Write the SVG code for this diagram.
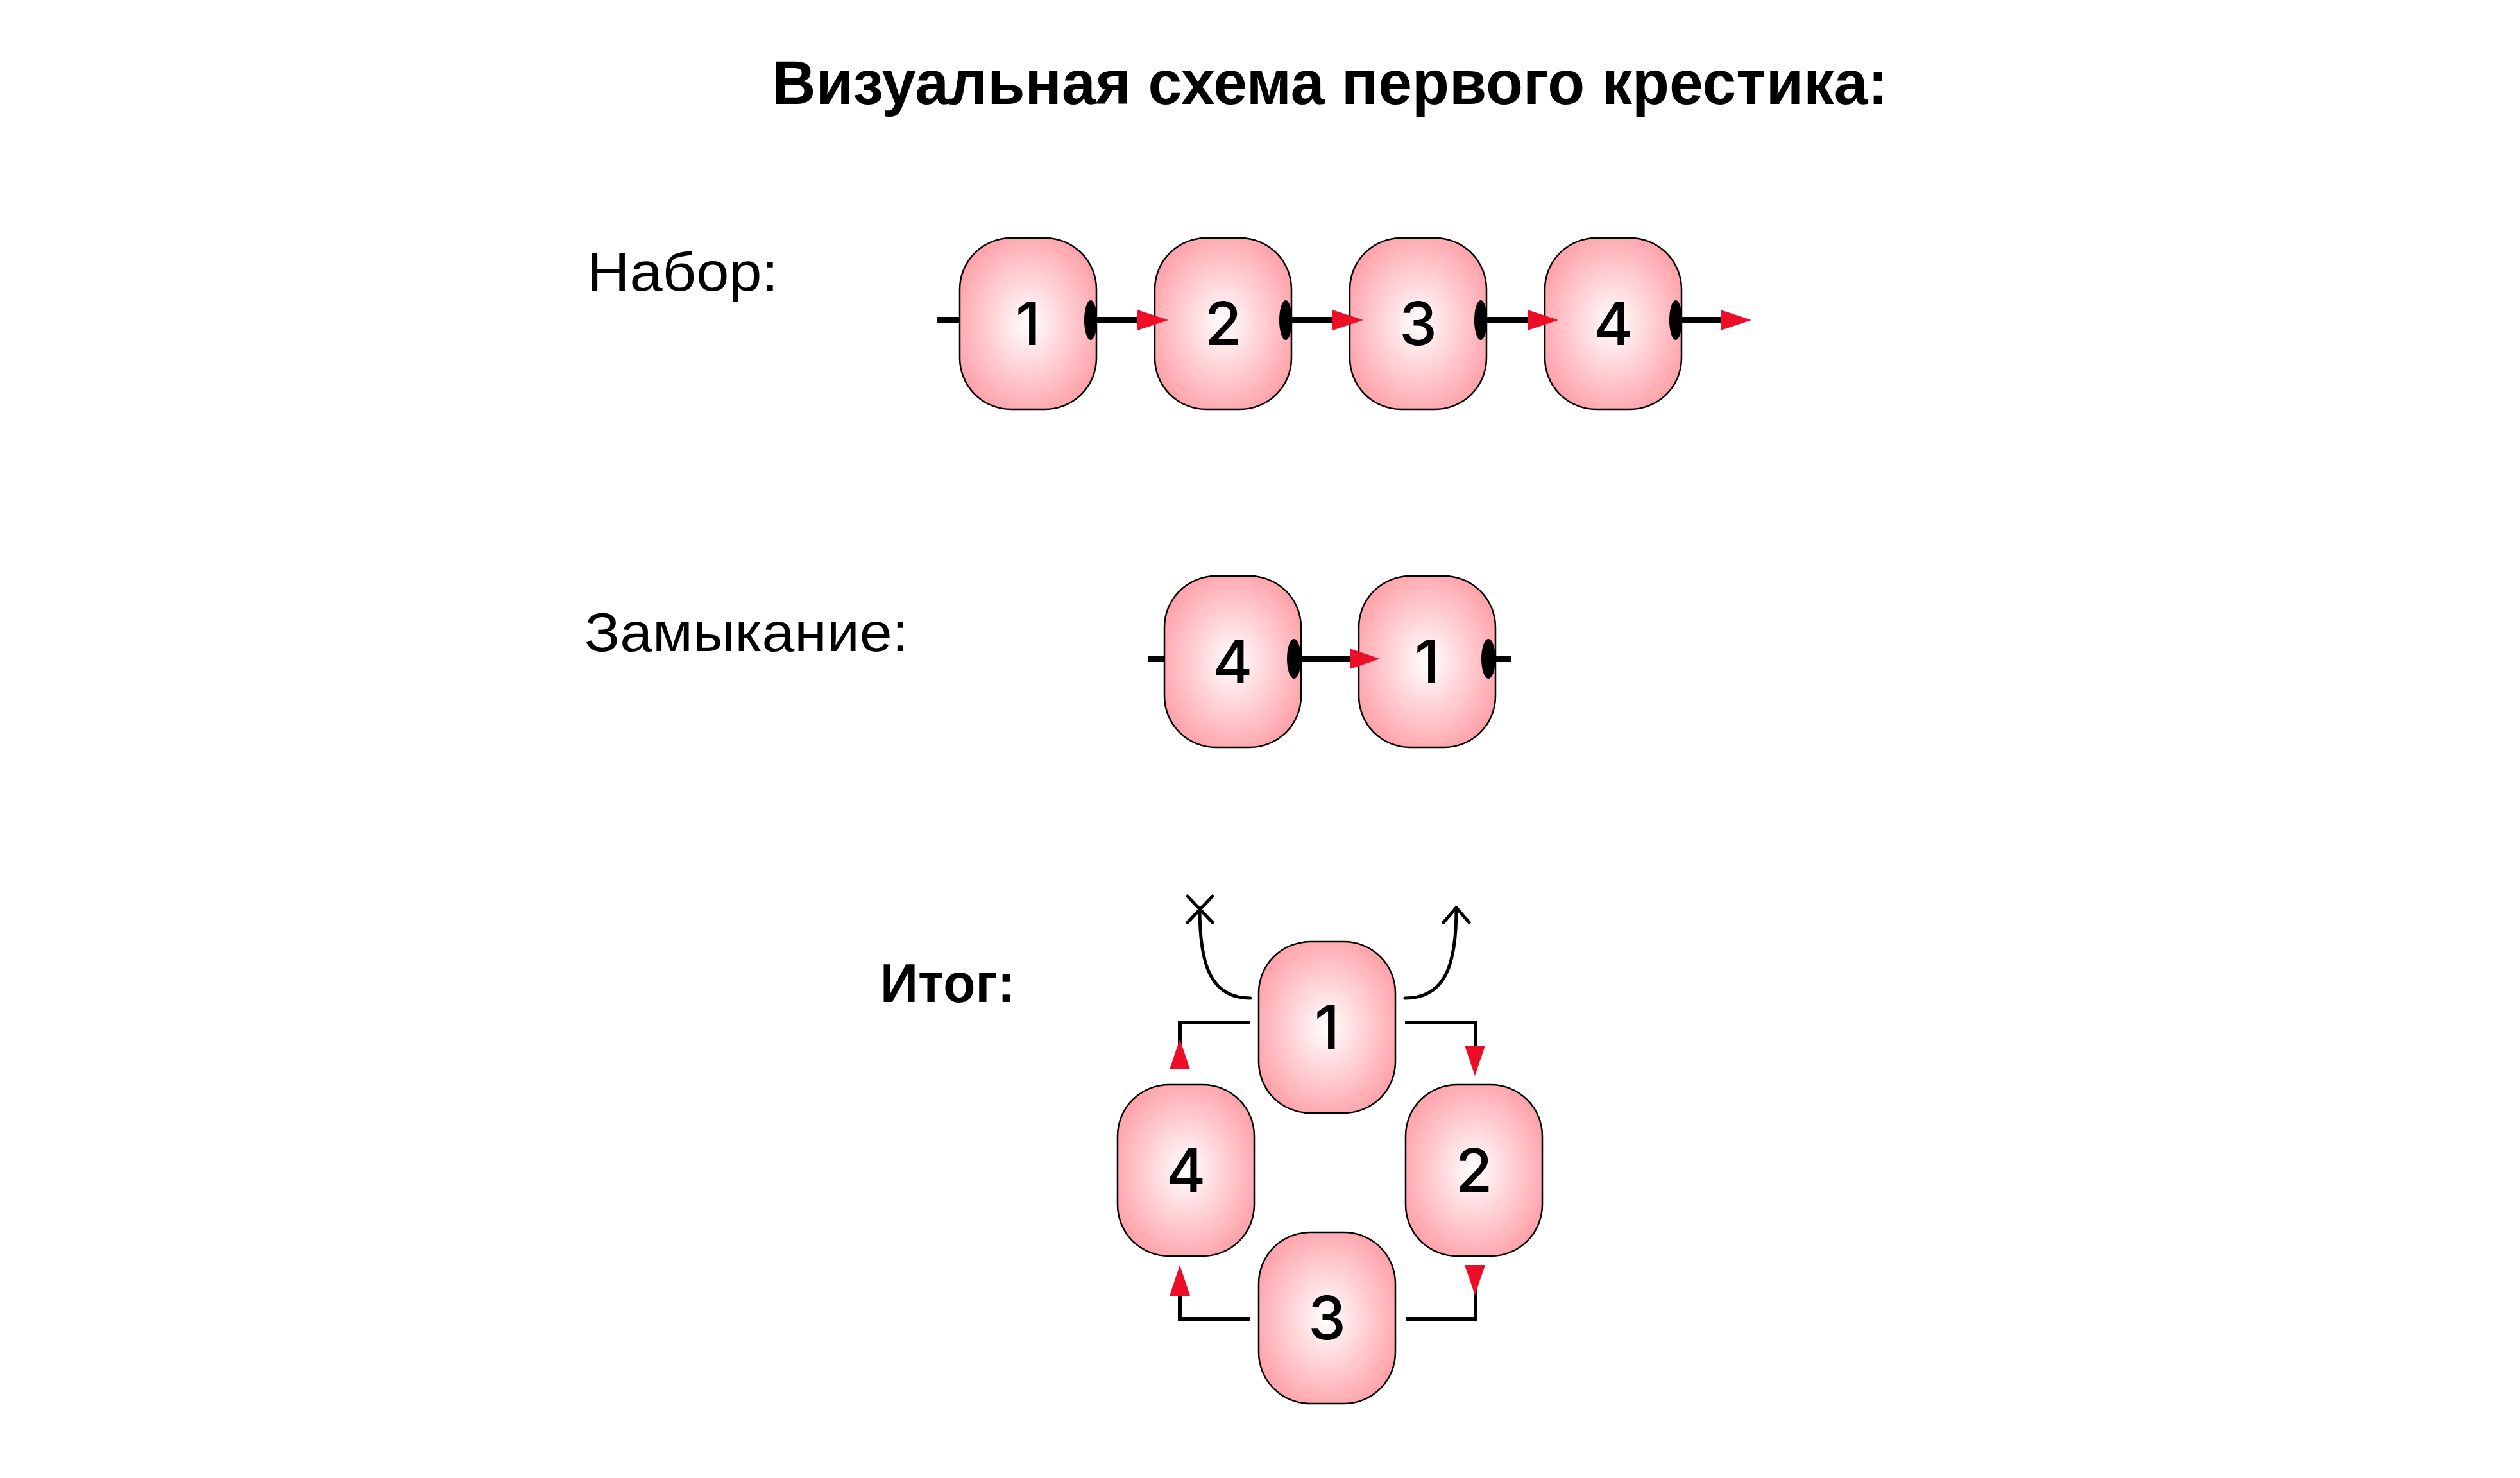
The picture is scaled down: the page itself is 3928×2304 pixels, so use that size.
<svg xmlns="http://www.w3.org/2000/svg" width="3928" height="2304" viewBox="0 0 3928 2304">
<style>
.t{font-family:"Liberation Sans",Arial,sans-serif;fill:#000}
.title{font-size:96px;font-weight:bold}
.lbl{font-size:86px}
.lblb{font-size:86px;font-weight:bold}
.num{font-family:Inter,"Liberation Sans",Arial,sans-serif;font-size:94px;font-weight:500;text-anchor:middle;fill:#000}
.node{fill:url(#pg);stroke:#000;stroke-width:2.5}
.ln{fill:none;stroke:#000;stroke-width:10}
.ln2{fill:none;stroke:#000;stroke-width:6}
.thin{fill:none;stroke:#000;stroke-width:5;stroke-linecap:round;stroke-linejoin:round}
.ar{fill:#ec0d26}
.el{fill:#000}
</style>
<defs>
<radialGradient id="pg" cx="0.5" cy="0.5" r="0.56">
<stop offset="0" stop-color="#ffffff"/>
<stop offset="1" stop-color="#ffa2aa"/>
</radialGradient>
</defs>
<rect width="3928" height="2304" fill="#fff"/>
<text class="t title" x="1203" y="162" textLength="1740" lengthAdjust="spacingAndGlyphs">Визуальная схема первого крестика:</text>
<text class="t lbl" x="915" y="453" textLength="298" lengthAdjust="spacingAndGlyphs">Набор:</text>
<text class="t lbl" x="911" y="1015" textLength="505" lengthAdjust="spacingAndGlyphs">Замыкание:</text>
<text class="t lblb" x="1372" y="1562" textLength="210" lengthAdjust="spacingAndGlyphs">Итог:</text>

<g id="row1-node1"><rect class="node" x="1496" y="371" width="213" height="267" rx="80" ry="80"/><text class="num" x="1602.5" y="538">1</text></g>
<g id="row1-node2"><rect class="node" x="1800" y="371" width="213" height="267" rx="80" ry="80"/><text class="num" x="1906.5" y="538">2</text></g>
<g id="row1-node3"><rect class="node" x="2104" y="371" width="213" height="267" rx="80" ry="80"/><text class="num" x="2210.5" y="538">3</text></g>
<g id="row1-node4"><rect class="node" x="2408" y="371" width="213" height="267" rx="80" ry="80"/><text class="num" x="2514.5" y="538">4</text></g>

<g id="row2-node4"><rect class="node" x="1815" y="898" width="213" height="267" rx="80" ry="80"/><text class="num" x="1921.5" y="1065">4</text></g>
<g id="row2-node1"><rect class="node" x="2118" y="898" width="213" height="267" rx="80" ry="80"/><text class="num" x="2224.5" y="1065">1</text></g>

<g id="res-node1"><rect class="node" x="1962" y="1468" width="213" height="267" rx="80" ry="80"/><text class="num" x="2068.5" y="1635">1</text></g>
<g id="res-node4"><rect class="node" x="1742" y="1691" width="213" height="267" rx="80" ry="80"/><text class="num" x="1848.5" y="1858">4</text></g>
<g id="res-node2"><rect class="node" x="2191" y="1691" width="213" height="267" rx="80" ry="80"/><text class="num" x="2297.5" y="1858">2</text></g>
<g id="res-node3"><rect class="node" x="1962" y="1921" width="213" height="267" rx="80" ry="80"/><text class="num" x="2068.5" y="2088">3</text></g>

<g id="connectors">
<path class="ln" d="M1460 499H1496 M1700 499H1780 M2004 499H2084 M2308 499H2388 M2612 499H2690"/>
<ellipse class="el" cx="1700" cy="499" rx="10" ry="31"/>
<ellipse class="el" cx="2004" cy="499" rx="10" ry="31"/>
<ellipse class="el" cx="2308" cy="499" rx="10" ry="31"/>
<ellipse class="el" cx="2612" cy="499" rx="10" ry="31"/>
<polygon class="ar" points="1773,483 1821,499 1773,515"/>
<polygon class="ar" points="2077,483 2125,499 2077,515"/>
<polygon class="ar" points="2381,483 2429,499 2381,515"/>
<polygon class="ar" points="2682,483 2730,499 2682,515"/>

<path class="ln" d="M1790 1027H1815 M2017 1027H2110 M2320 1027H2355"/>
<ellipse class="el" cx="2017" cy="1027" rx="11" ry="31"/>
<ellipse class="el" cx="2320" cy="1027" rx="11" ry="31"/>
<polygon class="ar" points="2104,1011 2151,1027 2104,1043"/>

<path class="thin" d="M1949 1556C1885 1556 1870 1500 1870 1417"/>
<path class="thin" d="M1851 1397L1890 1438M1890 1397L1851 1438"/>
<path class="thin" d="M2190 1556C2255 1556 2270 1500 2270 1416"/>
<path class="thin" d="M2250 1438L2270 1415L2290 1438"/>

<path class="ln2" d="M1949 1594H1839V1640"/>
<polygon class="ar" points="1823,1667 1839,1620 1855,1667"/>
<path class="ln2" d="M2190 1594H2300V1635"/>
<polygon class="ar" points="2283,1630 2299,1677 2315,1630"/>
<path class="ln2" d="M1948 2056H1839V2010"/>
<polygon class="ar" points="1823,2020 1839,1972 1855,2020"/>
<path class="ln2" d="M2191 2056H2300V2010"/>
<polygon class="ar" points="2283,1972 2299,2019 2315,1972"/>
</g>
</svg>
